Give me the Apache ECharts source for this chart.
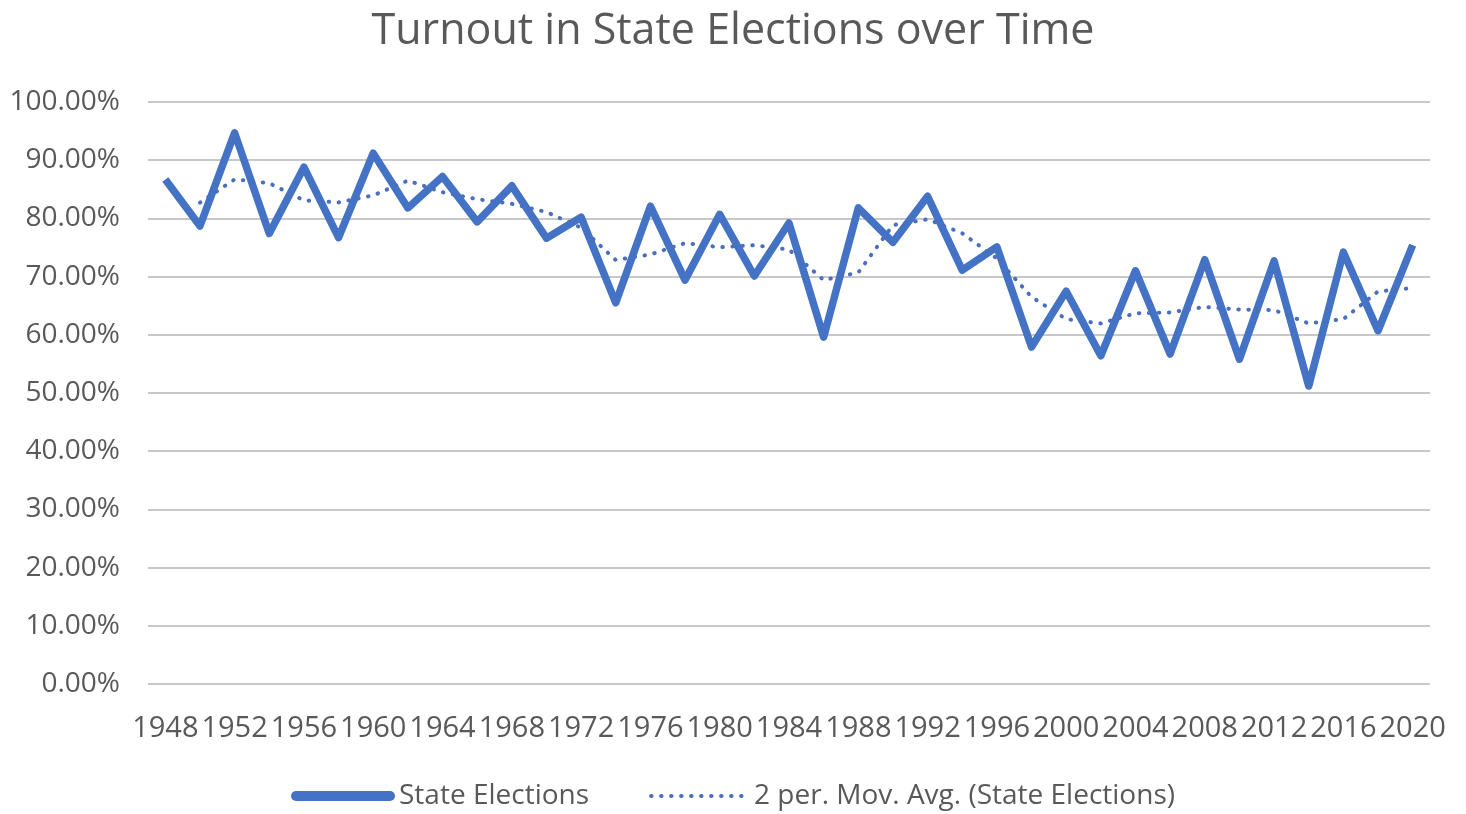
<!DOCTYPE html>
<html>
<head>
<meta charset="utf-8">
<title>Turnout in State Elections over Time</title>
<script src="https://cdn.jsdelivr.net/npm/echarts@6/dist/echarts.min.js"></script>
<style>
  html, body { margin: 0; padding: 0; background: #fff; }
  #chart { width: 1466px; height: 814px; }
</style>
</head>
<body>
<div id="chart"></div>
<script>
// 数据：年份与投票率（百分比）
const years = ['1948', '1950', '1952', '1954', '1956', '1958', '1960', '1962', '1964', '1966',
  '1968', '1970', '1972', '1974', '1976', '1978', '1980', '1982', '1984', '1986',
  '1988', '1990', '1992', '1994', '1996', '1998', '2000', '2002', '2004', '2006',
  '2008', '2010', '2012', '2014', '2016', '2018', '2020']

const turnout = [86.7, 78.7, 94.7, 77.4, 88.8, 76.7, 91.2, 81.8, 87.2, 79.4,
  85.6, 76.6, 80.2, 65.5, 82.1, 69.4, 80.7, 70.1, 79.2, 59.6,
  81.8, 75.9, 83.8, 71.1, 75.1, 57.9, 67.5, 56.4, 71.0, 56.7,
  72.9, 55.8, 72.7, 51.2, 74.2, 60.7, 75.4]

const seriesNames = ['State Elections', '2 per. Mov. Avg. (State Elections)']

// 2期移动平均（趋势线），第一个点没有值
const movAvg = turnout.map((v, i) => i === 0 ? '-' : +((v + turnout[i - 1]) / 2).toFixed(2))

const font = '"Open Sans", "Liberation Sans", sans-serif'
const textColor = '#595959'
const blue = '#4472c4'
const dotBlue = '#4a6fbf'

const chart = echarts.init(document.getElementById('chart'))

const option = {
  backgroundColor: '#fff',
  title: {
    text: 'Turnout in State Elections over Time',
    left: 'center',
    top: 5,
    textStyle: { fontFamily: font, fontSize: 43, fontWeight: 'normal', color: textColor }
  },
  legend: {
    top: 777,
    left: 'center',
    itemWidth: 94,
    itemHeight: 14,
    itemGap: 60,
    textStyle: { fontFamily: font, fontSize: 28, color: textColor, padding: [0, 0, 0, 4] },
    data: [
      {
        name: seriesNames[0],
        itemStyle: { opacity: 0 },
        lineStyle: { color: blue, width: 10, cap: 'round' }
      },
      {
        name: seriesNames[1],
        itemStyle: { opacity: 0 },
        lineStyle: { color: dotBlue, width: 4, type: [0.5, 9.5], cap: 'round' }
      }
    ]
  },
  grid: { left: 148, right: 36, top: 102, bottom: 130 },
  xAxis: {
    type: 'category',
    data: years,
    boundaryGap: true,
    axisLine: { show: false },
    axisTick: { show: false },
    axisLabel: {
      interval: 1,
      margin: 30,
      fontFamily: font,
      fontSize: 29,
      color: textColor
    }
  },
  yAxis: {
    type: 'value',
    min: 0,
    max: 100,
    interval: 10,
    axisLine: { show: false },
    axisTick: { show: false },
    splitLine: { lineStyle: { color: '#c8c8c8', width: 2 } },
    axisLabel: {
      margin: 28,
      fontFamily: font,
      fontSize: 28,
      color: textColor,
      formatter: v => v.toFixed(2) + '%'
    }
  },
  series: [
    {
      name: seriesNames[0],
      type: 'line',
      data: turnout,
      symbol: 'none',
      lineStyle: { color: blue, width: 7.5, join: 'round' },
      itemStyle: { color: blue }
    },
    {
      name: seriesNames[1],
      type: 'line',
      data: movAvg,
      symbol: 'none',
      lineStyle: { color: dotBlue, width: 4, type: [0.5, 9.5], cap: 'round' },
      itemStyle: { color: dotBlue }
    }
  ]
}

chart.setOption(option)
</script>
</body>
</html>
